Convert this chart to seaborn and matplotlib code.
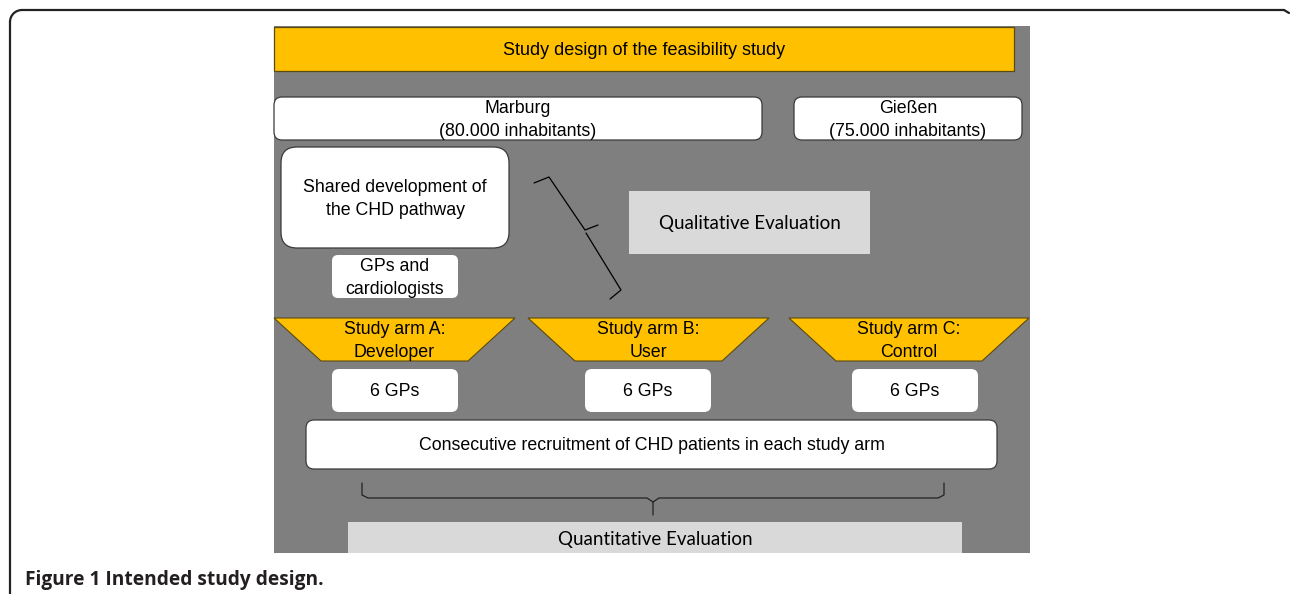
import matplotlib.pyplot as plt
import seaborn as sns
from matplotlib.patches import FancyBboxPatch, Polygon, Rectangle, Arc

# texts of the diagram
title_text = "Study design of the feasibility study"
city_labels = ["Marburg\n(80.000 inhabitants)", "Gießen\n(75.000 inhabitants)"]
dev_labels = ["Shared development of\nthe CHD pathway", "GPs and\ncardiologists"]
arm_labels = ["Study arm A:\nDeveloper", "Study arm B:\nUser", "Study arm C:\nControl"]
gp_labels = ["6 GPs", "6 GPs", "6 GPs"]
recruit_text = "Consecutive recruitment of CHD patients in each study arm"
qual_text = "Qualitative Evaluation"
quant_text = "Quantitative Evaluation"
caption = "Figure 1 Intended study design."

# layout, pixel coords (x0, y0, x1, y1), y grows downwards
panel = (274, 26, 1030, 553)
title_box = (274, 27, 1014, 71)
city_boxes = [(274, 97, 762, 140), (794, 97, 1022, 140)]
dev_boxes = [(281, 147, 509, 248), (332, 255, 458, 298)]
arm_tops = [(274, 515), (528, 769), (789, 1029)]
arm_bottoms = [(321, 468), (575, 722), (836, 982)]
arm_y = (318, 361)
gp_boxes = [(332, 369, 458, 412), (585, 369, 711, 412), (852, 369, 978, 412)]
recruit_box = (306, 420, 997, 469)
qual_box = (629, 191, 870, 254)
quant_box = (348, 522, 962, 553)

YELLOW = "#ffc000"
GREY = "#7f7f7f"
LIGHT = "#d9d9d9"

sns.set_theme(style="white")
plt.rcParams['font.family'] = ['Liberation Sans', 'DejaVu Sans']

fig = plt.figure(figsize=(12.9, 5.94), dpi=100)
ax = fig.add_axes([0, 0, 1, 1])
ax.set_xlim(0, 1290)
ax.set_ylim(594, 0)
ax.axis("off")


def rbox(b, fc, ec="#3a3a3a", r=8, lw=0.9):
    x0, y0, x1, y1 = b
    ax.add_patch(FancyBboxPatch((x0, y0), x1 - x0, y1 - y0,
                                boxstyle=f"round,pad=0,rounding_size={r}",
                                fc=fc, ec=ec, lw=lw))


def label(b, txt, size=12.8, **kw):
    x0, y0, x1, y1 = b
    ax.text((x0 + x1) / 2, (y0 + y1) / 2 + 1.5, txt, ha="center", va="center",
            fontsize=size, linespacing=1.4, color="black", **kw)


# outer frame with rounded top-left corner
ax.plot([10, 10], [22, 594], color="#222222", lw=1.6)
ax.plot([22, 1284], [10, 10], color="#222222", lw=1.6)
ax.add_patch(Arc((22, 22), 24, 24, theta1=180, theta2=270, color="#222222", lw=1.6))
ax.plot([1284, 1289], [10, 13], color="#222222", lw=1.6)

# grey background panel
ax.add_patch(Rectangle((panel[0], panel[1]), panel[2] - panel[0], panel[3] - panel[1],
                       fc=GREY, ec="none"))

# title bar
ax.add_patch(Rectangle((title_box[0], title_box[1]), title_box[2] - title_box[0],
                       title_box[3] - title_box[1], fc=YELLOW, ec="#5a4a10", lw=0.9))
label(title_box, title_text, size=13)

for b, t in zip(city_boxes, city_labels):
    rbox(b, "white")
    label(b, t)

rbox(dev_boxes[0], "white", r=16)
label(dev_boxes[0], dev_labels[0])
rbox(dev_boxes[1], "white", ec="none", r=6)
label(dev_boxes[1], dev_labels[1])

# qualitative evaluation
ax.add_patch(Rectangle((qual_box[0], qual_box[1]), qual_box[2] - qual_box[0],
                       qual_box[3] - qual_box[1], fc=LIGHT, ec="none"))
label(qual_box, qual_text, size=13.5, family=["Lato", "DejaVu Sans"])

# slanted brace towards qualitative evaluation
ax.plot([534, 549, 585, 598], [183, 177, 230, 225], color="black", lw=0.9)
ax.plot([586, 621, 610], [233, 290, 299], color="black", lw=0.9)

# study arms
for (tx0, tx1), (bx0, bx1), t in zip(arm_tops, arm_bottoms, arm_labels):
    ax.add_patch(Polygon([(tx0, arm_y[0]), (tx1, arm_y[0]), (bx1, arm_y[1]), (bx0, arm_y[1])],
                         closed=True, fc=YELLOW, ec="#5a4a10", lw=0.8))
    label((tx0, arm_y[0], tx1, arm_y[1]), t)

for b, t in zip(gp_boxes, gp_labels):
    rbox(b, "white", ec="none", r=7)
    label(b, t)

rbox(recruit_box, "white", r=8)
label(recruit_box, recruit_text)

# horizontal brace towards quantitative evaluation
ax.plot([362, 362, 368, 647, 653, 653], [483, 495, 498, 498, 502, 515], color="#222222", lw=0.9)
ax.plot([653, 659, 938, 944, 944], [502, 498, 498, 495, 483], color="#222222", lw=0.9)

ax.add_patch(Rectangle((quant_box[0], quant_box[1]), quant_box[2] - quant_box[0],
                       quant_box[3] - quant_box[1], fc=LIGHT, ec="none"))
label(quant_box, quant_text, size=13.5, family=["Lato", "DejaVu Sans"])

ax.text(25, 580, caption, ha="left", va="center", fontsize=13.8, fontweight="bold",
        color="#231f20", family=["Open Sans", "DejaVu Sans"])

fig.savefig("out.png", dpi=100)
